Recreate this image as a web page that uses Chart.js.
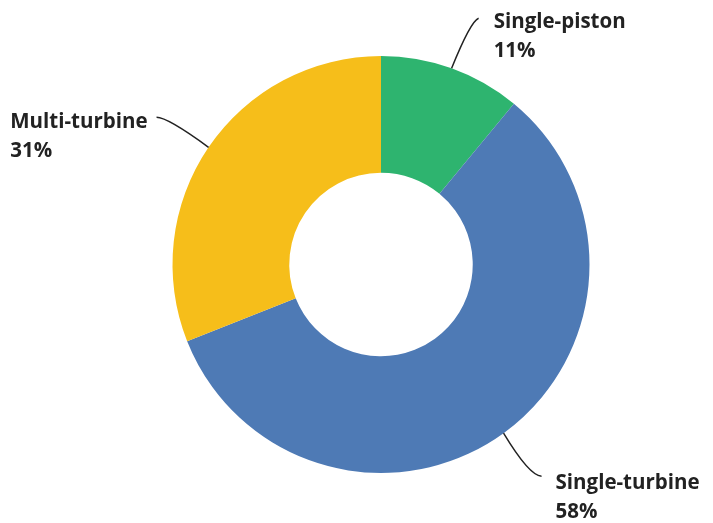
<!DOCTYPE html>
<html>
<head>
<meta charset="utf-8">
<script src="https://cdn.jsdelivr.net/npm/chart.js@4/dist/chart.umd.min.js"></script>
<style>
  html, body { margin: 0; padding: 0; background: #ffffff; }
  #wrap { width: 713px; height: 523px; }
</style>
</head>
<body>
<div id="wrap"><canvas id="c" width="713" height="523"></canvas></div>
<script>
// Aircraft type shares (percent), clockwise from 12 o'clock
const categories = ['Single-piston', 'Single-turbine', 'Multi-turbine'];
const shares = [11, 58, 31];
const colors = ['#2eb46f', '#4e7ab5', '#f6be1a'];

// Leader-line geometry per slice (same order as categories): control point and
// end point offsets from the arc anchor, plus the label offset from the line end.
const leaders = [
  { c: [19, -47], e: [27, -50], tx: 15, ty: 10, align: 'left' },
  { c: [26, 43], e: [38, 43], tx: 14, ty: 13, align: 'left' },
  { c: [-41, -30], e: [-52, -30], tx: -9, ty: 11, align: 'blockRight' }
];

const labelFont = 'bold 20.5px "Open Sans", "Liberation Sans", sans-serif';
const lineGap = 29;

const leaderPlugin = {
  id: 'leaderLabels',
  afterDraw(chart) {
    const ctx = chart.ctx;
    const meta = chart.getDatasetMeta(0);
    ctx.save();
    meta.data.forEach((arc, i) => {
      const p = arc.getProps(['x', 'y', 'startAngle', 'endAngle', 'outerRadius'], true);
      const mid = (p.startAngle + p.endAngle) / 2;
      const ax = p.x + Math.cos(mid) * p.outerRadius;
      const ay = p.y + Math.sin(mid) * p.outerRadius;
      const L = leaders[i];
      const ex = ax + L.e[0], ey = ay + L.e[1];
      ctx.beginPath();
      ctx.moveTo(ax, ay);
      ctx.quadraticCurveTo(ax + L.c[0], ay + L.c[1], ex, ey);
      ctx.strokeStyle = '#222222';
      ctx.lineWidth = 1.5;
      ctx.stroke();

      ctx.font = labelFont;
      ctx.fillStyle = '#222222';
      ctx.textBaseline = 'alphabetic';
      ctx.textAlign = 'left';
      const line1 = chart.data.labels[i];
      const line2 = chart.data.datasets[0].data[i] + '%';
      let tx = ex + L.tx;
      if (L.align === 'blockRight') {
        tx = ex + L.tx - ctx.measureText(line1).width;
      }
      const ty = ey + L.ty;
      ctx.fillText(line1, tx, ty);
      ctx.fillText(line2, tx, ty + lineGap);
    });
    ctx.restore();
  }
};

new Chart(document.getElementById('c'), {
  type: 'doughnut',
  data: {
    labels: categories,
    datasets: [{
      data: shares,
      backgroundColor: colors,
      borderWidth: 0,
      hoverOffset: 0
    }]
  },
  options: {
    responsive: false,
    animation: false,
    cutout: '44%',
    layout: { padding: { left: 172, right: 123, top: 56, bottom: 50 } },
    plugins: {
      legend: { display: false },
      tooltip: { enabled: false }
    }
  },
  plugins: [leaderPlugin]
});
</script>
</body>
</html>
